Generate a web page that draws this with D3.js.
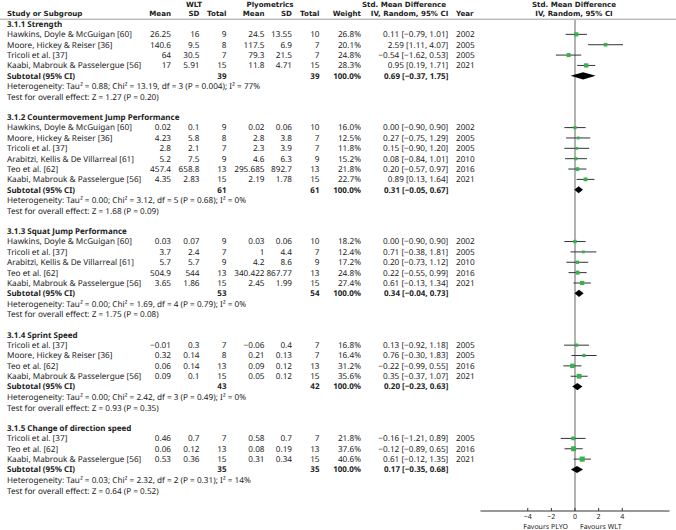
<!DOCTYPE html>
<html>
<head>
<meta charset="utf-8">
<script src="https://cdn.jsdelivr.net/npm/d3@7"></script>
<style>
  body { margin: 0; background: #fff; }
  text { font-family: "Noto Sans", "DejaVu Sans", sans-serif; font-size: 8.2px; fill: #222; text-rendering: geometricPrecision; }
  .b { font-weight: bold; font-size: 8px; }
  .h { font-family: "DejaVu Sans", sans-serif; font-weight: bold; font-size: 7.1px; }
  .ax { font-size: 7px; }
</style>
</head>
<body>
<div id="forest"></div>
<script>
// study rows: name, WLT mean, sd, n, PLYO mean, sd, n, weight, smd, lo, hi, year
const strength = [
    ["Hawkins, Doyle & McGuigan [60]", "26.25", "16", 9, "24.5", "13.55", 10, 26.8, 0.11, -0.79, 1.01, 2002],
    ["Moore, Hickey & Reiser [36]", "140.6", "9.5", 8, "117.5", "6.9", 7, 20.1, 2.59, 1.11, 4.07, 2005],
    ["Tricoli et al. [37]", "64", "30.5", 7, "79.3", "21.5", 7, 24.8, -0.54, -1.62, 0.53, 2005],
    ["Kaabi, Mabrouk & Passelergue [56]", "17", "5.91", 15, "11.8", "4.71", 15, 28.3, 0.95, 0.19, 1.71, 2021]
];
const cmj = [
    ["Hawkins, Doyle & McGuigan [60]", "0.02", "0.1", 9, "0.02", "0.06", 10, 16.0, 0.00, -0.90, 0.90, 2002],
    ["Moore, Hickey & Reiser [36]", "4.23", "5.8", 8, "2.8", "3.8", 7, 12.5, 0.27, -0.75, 1.29, 2005],
    ["Tricoli et al. [37]", "2.8", "2.1", 7, "2.3", "3.9", 7, 11.8, 0.15, -0.90, 1.20, 2005],
    ["Arabitzi, Kellis & De Villarreal [61]", "5.2", "7.5", 9, "4.6", "6.3", 9, 15.2, 0.08, -0.84, 1.01, 2010],
    ["Teo et al. [62]", "457.4", "658.8", 13, "295.685", "892.7", 13, 21.8, 0.20, -0.57, 0.97, 2016],
    ["Kaabi, Mabrouk & Passelergue [56]", "4.35", "2.83", 15, "2.19", "1.78", 15, 22.7, 0.89, 0.13, 1.64, 2021]
];
const sj = [
    ["Hawkins, Doyle & McGuigan [60]", "0.03", "0.07", 9, "0.03", "0.06", 10, 18.2, 0.00, -0.90, 0.90, 2002],
    ["Tricoli et al. [37]", "3.7", "2.4", 7, "1", "4.4", 7, 12.4, 0.71, -0.38, 1.81, 2005],
    ["Arabitzi, Kellis & De Villarreal [61]", "5.7", "5.7", 9, "4.2", "8.6", 9, 17.2, 0.20, -0.73, 1.12, 2010],
    ["Teo et al. [62]", "504.9", "544", 13, "340.422", "867.77", 13, 24.8, 0.22, -0.55, 0.99, 2016],
    ["Kaabi, Mabrouk & Passelergue [56]", "3.65", "1.86", 15, "2.45", "1.99", 15, 27.4, 0.61, -0.13, 1.34, 2021]
];
const sprint = [
    ["Tricoli et al. [37]", "\u22120.01", "0.3", 7, "\u22120.06", "0.4", 7, 16.8, 0.13, -0.92, 1.18, 2005],
    ["Moore, Hickey & Reiser [36]", "0.32", "0.14", 8, "0.21", "0.13", 7, 16.4, 0.76, -0.30, 1.83, 2005],
    ["Teo et al. [62]", "0.06", "0.14", 13, "0.09", "0.12", 13, 31.2, -0.22, -0.99, 0.55, 2016],
    ["Kaabi, Mabrouk & Passelergue [56]", "0.09", "0.1", 15, "0.05", "0.12", 15, 35.6, 0.35, -0.37, 1.07, 2021]
];
const cod = [
    ["Tricoli et al. [37]", "0.46", "0.7", 7, "0.58", "0.7", 7, 21.8, -0.16, -1.21, 0.89, 2005],
    ["Teo et al. [62]", "0.06", "0.12", 13, "0.08", "0.19", 13, 37.6, -0.12, -0.89, 0.65, 2016],
    ["Kaabi, Mabrouk & Passelergue [56]", "0.53", "0.36", 15, "0.31", "0.34", 15, 40.6, 0.61, -0.12, 1.35, 2021]
];

const groupTitles = ["3.1.1 Strength", "3.1.2 Countermovement Jump Performance", "3.1.3 Squat Jump Performance",
    "3.1.4 Sprint Speed", "3.1.5 Change of direction speed"];
const groupStudies = [strength, cmj, sj, sprint, cod];

// subtotal: WLT n, PLYO n, smd, lo, hi
const subtotals = [
    [39, 39, 0.69, -0.37, 1.75],
    [61, 61, 0.31, -0.05, 0.67],
    [53, 54, 0.34, -0.04, 0.73],
    [43, 42, 0.20, -0.23, 0.63],
    [35, 35, 0.17, -0.35, 0.68]
];
const heterogeneity = [
    "Heterogeneity: Tau\u00b2 = 0.88; Chi\u00b2 = 13.19, df = 3 (P = 0.004); I\u00b2 = 77%",
    "Heterogeneity: Tau\u00b2 = 0.00; Chi\u00b2 = 3.12, df = 5 (P = 0.68); I\u00b2 = 0%",
    "Heterogeneity: Tau\u00b2 = 0.00; Chi\u00b2 = 1.69, df = 4 (P = 0.79); I\u00b2 = 0%",
    "Heterogeneity: Tau\u00b2 = 0.00; Chi\u00b2 = 2.42, df = 3 (P = 0.49); I\u00b2 = 0%",
    "Heterogeneity: Tau\u00b2 = 0.03; Chi\u00b2 = 2.32, df = 2 (P = 0.31); I\u00b2 = 14%"
];
const overallTests = [
    "Test for overall effect: Z = 1.27 (P = 0.20)",
    "Test for overall effect: Z = 1.68 (P = 0.09)",
    "Test for overall effect: Z = 1.75 (P = 0.08)",
    "Test for overall effect: Z = 0.93 (P = 0.35)",
    "Test for overall effect: Z = 0.64 (P = 0.52)"
];
const axisTicks = [-4, -2, 0, 2, 4];

const width = 676, height = 530;
const svg = d3.select("#forest").append("svg")
    .attr("width", width)
    .attr("height", height);

// column anchors
const col = { name: 7, m1: 171, sd1: 199.5, n1: 226.5, m2: 264.5, sd2: 292, n2: 319.5, w: 361, ci: 448.3, year: 456 };

const rowH = 10.36, row0 = 24;
const yRow = r => row0 + r * rowH;

const x = d3.scaleLinear().domain([-8, 8]).range([480.5, 669.5]);
const axisY = 511;

const fmt = v => (v < 0 ? "\u2212" : "") + Math.abs(v).toFixed(2);
const ciText = (s, lo, hi) => `${fmt(s)} [${fmt(lo)}, ${fmt(hi)}]`;

function txt(xp, r, s, anchor, bold) {
    return svg.append("text")
        .attr("x", xp)
        .attr("y", yRow(r))
        .attr("dy", "0.35em")
        .attr("text-anchor", anchor || "start")
        .attr("class", bold ? "b" : null)
        .text(s);
}

// header cells, placed by baseline
function hdr(xp, base, s, anchor) {
    return svg.append("text")
        .attr("class", "h")
        .attr("x", xp)
        .attr("y", base)
        .attr("text-anchor", anchor)
        .text(s);
}
const top1 = 7.4, top2 = 16.4;
hdr(194, top1, "WLT", "middle");
hdr(270, top1, "Plyometrics", "middle");
hdr(404, top1, "Std. Mean Difference", "middle");
hdr(574, top1, "Std. Mean Difference", "middle");
hdr(col.name, top2, "Study or Subgroup", "start");
hdr(col.m1, top2, "Mean", "end");
hdr(col.sd1, top2, "SD", "end");
hdr(col.n1, top2, "Total", "end");
hdr(col.m2, top2, "Mean", "end");
hdr(col.sd2, top2, "SD", "end");
hdr(col.n2, top2, "Total", "end");
hdr(col.w, top2, "Weight", "end");
hdr(col.ci, top2, "IV, Random, 95% CI", "end");
hdr(col.year, top2, "Year", "start");
hdr(574, top2, "IV, Random, 95% CI", "middle");

svg.append("line")
    .attr("x1", 0).attr("x2", width)
    .attr("y1", 19.2).attr("y2", 19.2)
    .attr("stroke", "#888").attr("stroke-width", 0.8);

// zero line
svg.append("line")
    .attr("x1", x(0)).attr("x2", x(0))
    .attr("y1", 20).attr("y2", axisY)
    .attr("stroke", "#999").attr("stroke-width", 1.5);

let r = 0;
groupTitles.forEach((title, g) => {
    txt(col.name, r, title, "start", true);
    r++;
    groupStudies[g].forEach(d => {
        txt(col.name, r, d[0]);
        txt(col.m1, r, d[1], "end");
        txt(col.sd1, r, d[2], "end");
        txt(col.n1, r, d[3], "end");
        txt(col.m2, r, d[4], "end");
        txt(col.sd2, r, d[5], "end");
        txt(col.n2, r, d[6], "end");
        txt(col.w, r, d[7].toFixed(1) + "%", "end");
        txt(col.ci, r, ciText(d[8], d[9], d[10]), "end");
        txt(col.year, r, d[11]);

        const cy = yRow(r);
        svg.append("line")
            .attr("x1", x(d[9])).attr("x2", x(d[10]))
            .attr("y1", cy).attr("y2", cy)
            .attr("stroke", "#333").attr("stroke-width", 1);
        const side = 0.8 * Math.sqrt(d[7]);
        svg.append("rect")
            .attr("x", x(d[8]) - side / 2)
            .attr("y", cy - side / 2)
            .attr("width", side).attr("height", side)
            .attr("fill", "#34b34a");
        r++;
    });
    const st = subtotals[g];
    txt(col.name, r, "Subtotal (95% CI)", "start", true);
    txt(col.n1, r, st[0], "end", true);
    txt(col.n2, r, st[1], "end", true);
    txt(col.w, r, "100.0%", "end", true);
    txt(col.ci, r, ciText(st[2], st[3], st[4]), "end", true);
    const dy = yRow(r);
    svg.append("path")
        .attr("d", `M${x(st[3])},${dy} L${x(st[2])},${dy - 3.6} L${x(st[4])},${dy} L${x(st[2])},${dy + 3.6} Z`)
        .attr("fill", "#000");
    r++;
    txt(col.name, r, heterogeneity[g]);
    r++;
    txt(col.name, r + 0.05, overallTests[g]);
    r += 2;
});

// axis
const ax = svg.append("g").attr("transform", `translate(0,${axisY})`);
ax.append("line")
    .attr("x1", x.range()[0]).attr("x2", x.range()[1])
    .attr("stroke", "#333").attr("stroke-width", 1);
axisTicks.forEach(t => {
    ax.append("line")
        .attr("x1", x(t)).attr("x2", x(t))
        .attr("y1", -3).attr("y2", 0)
        .attr("stroke", "#333");
    ax.append("text")
        .attr("class", "ax")
        .attr("x", x(t)).attr("y", 7.5)
        .attr("text-anchor", "middle")
        .text(t < 0 ? "\u2212" + Math.abs(t) : t);
});
ax.append("text").attr("class", "ax").attr("x", 568).attr("y", 17.5).attr("text-anchor", "end").text("Favours PLYO");
ax.append("text").attr("class", "ax").attr("x", 580).attr("y", 17.5).attr("text-anchor", "start").text("Favours WLT");
</script>
</body>
</html>
